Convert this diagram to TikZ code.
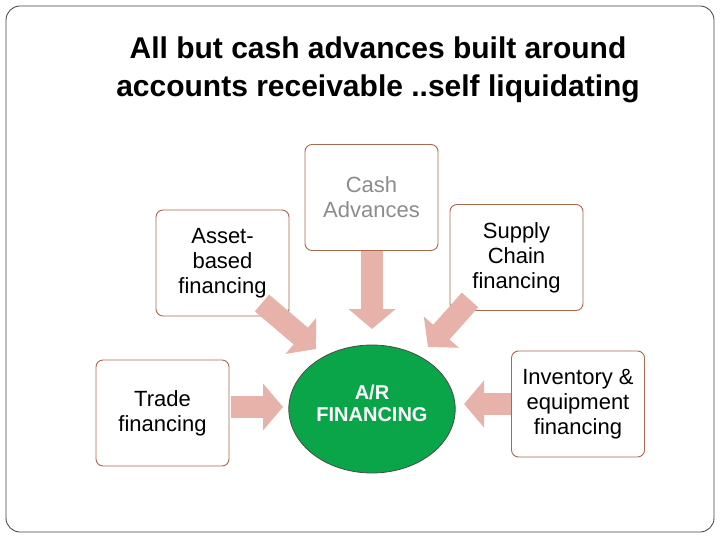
\documentclass[tikz,border=0pt]{standalone}
\usepackage{fontspec}
\setmainfont{Liberation Sans}
\usetikzlibrary{arrows.meta}
\definecolor{boxb}{HTML}{A8694E}
\definecolor{arr}{HTML}{E6B2AA}
\definecolor{grn}{HTML}{0AA548}
\tikzset{
 box/.style={draw=boxb,line width=0.9pt,fill=white,rounded corners=7pt,minimum width=133pt,minimum height=106pt,align=center,font=\fontsize{22}{25}\selectfont},
 fat/.style={draw=arr,line width=22pt,-{Triangle[length=20pt,width=46pt]}},
}
\begin{document}
\begin{tikzpicture}[x=1pt,y=-1pt]
\useasboundingbox (0,0) rectangle (720,540);
\draw[rounded corners=14pt,draw=black!75,line width=0.8pt] (6,6) rectangle (714,532);
\node[font=\bfseries\fontsize{30}{38}\selectfont,align=center] (title) at (378,70) {All but cash advances built around\\accounts receivable ..self liquidating};
\node[box] (cash) at (371.5,197.5) {};
\node[text=black!45,font=\fontsize{22}{25}\selectfont,align=center] (casht) at (371.5,197) {Cash\\Advances};
\node[box] (asset) at (222.5,263) {Asset-\\based\\financing};
\node[box] (supply) at (516.5,257.5) {Supply\\Chain\\financing};
\node[box] (trade) at (162.5,413) {Trade\\financing};
\node[box] (inv) at (578,404) {Inventory \&\\equipment\\financing};
\coordinate (c1) at (372,251);
\coordinate (c2) at (372,329);
\coordinate (a1) at (262,303);
\coordinate (a2) at (316,349);
\coordinate (s1) at (470,300);
\coordinate (s2) at (428,347);
\coordinate (t1) at (231,407);
\coordinate (t2) at (283,407);
\coordinate (i1) at (511,404);
\coordinate (i2) at (464,404);
\draw[fat] (c1) -- (c2);
\draw[fat] (a1) -- (a2);
\draw[fat] (s1) -- (s2);
\draw[fat] (t1) -- (t2);
\draw[fat] (i1) -- (i2);
\node[circle,draw=black!70,line width=0.8pt,fill=grn,minimum size=128pt,inner sep=0pt,xscale=1.3] (ar) at (372,409) {};
\node[text=white,font=\bfseries\fontsize{20}{22}\selectfont,align=center] (art) at (372,403) {A/R\\FINANCING};
\end{tikzpicture}
\end{document}
